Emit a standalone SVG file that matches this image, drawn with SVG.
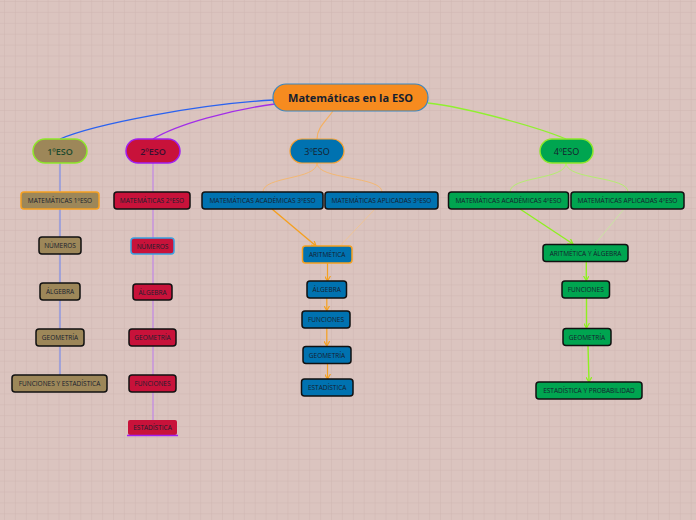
<svg xmlns="http://www.w3.org/2000/svg" width="696" height="520" viewBox="0 0 696 520">
<defs>
<pattern id="grid" x="4" y="1" width="10.9" height="10.9" patternUnits="userSpaceOnUse">
<path d="M0,0 V10.9 M0,0 H10.9" stroke="#cfb6b1" stroke-width="1" fill="none"/>
</pattern>
<marker id="ao" markerWidth="6" markerHeight="6" refX="5" refY="3" orient="auto" markerUnits="userSpaceOnUse">
<path d="M0,0 L5,3 L0,6" fill="none" stroke="#f5a020" stroke-width="1.2"/>
</marker>
<marker id="al" markerWidth="6" markerHeight="6" refX="5" refY="3" orient="auto" markerUnits="userSpaceOnUse">
<path d="M0,0 L5,3 L0,6" fill="none" stroke="#8ef020" stroke-width="1.2"/>
</marker>
</defs>
<style>
text{font-family:"Open Sans","Noto Sans","DejaVu Sans",sans-serif;fill:#16202e;text-anchor:middle;dominant-baseline:central}
.s{font-size:6.5px}
.m{font-size:9px;font-weight:600}
.k{fill:#9d8759}
.r{fill:#c8123a}
.b{fill:#0072b0}
.g{fill:#00a550}
.bk{stroke:#111;stroke-width:1.5}
.c{fill:none}
</style>
<rect width="696" height="520" fill="#dbc4bf"/>
<rect width="696" height="520" fill="url(#grid)"/>
<g id="connectors" class="c">
<path d="M60,139 C95,124 200,104 274,100" stroke="#2a62f0" stroke-width="1.3"/>
<path d="M153,139 C178,124 230,110 275,104" stroke="#a22ee8" stroke-width="1.3"/>
<path d="M333,111 C325,122 317,128 317,139" stroke="#f5b060" stroke-width="1.2"/>
<path d="M428,103 C470,108 540,128 566,139" stroke="#90f030" stroke-width="1.3"/>
<path d="M60,163 V375" stroke="#6a82f0" stroke-width="1"/>
<path d="M153,163 V420" stroke="#c286e6" stroke-width="1.2"/>
<path d="M317,163 C317,180 263,176 263,192" stroke="#f3b874" stroke-width="1"/>
<path d="M317,163 C317,180 382,176 382,192" stroke="#f3b874" stroke-width="1"/>
<path d="M566,163 C566,180 510,176 510,192" stroke="#b4ee70" stroke-width="1"/>
<path d="M566,163 C566,180 628,176 628,192" stroke="#b4ee70" stroke-width="1"/>
<path d="M272,209 L316,246" stroke="#f5a020" stroke-width="1.4" marker-end="url(#ao)"/>
<path d="M375,209 L340,246" stroke="#f3c38a" stroke-width="0.8"/>
<path d="M327.5,263 V281" stroke="#f5a020" stroke-width="1.2" marker-end="url(#ao)"/>
<path d="M326.8,298 V310.5" stroke="#f5a020" stroke-width="1.2" marker-end="url(#ao)"/>
<path d="M326.8,328 V346" stroke="#f5a020" stroke-width="1.2" marker-end="url(#ao)"/>
<path d="M327.5,363 V379" stroke="#f5a020" stroke-width="1.2" marker-end="url(#ao)"/>
<path d="M520,209 L573,244" stroke="#8ef020" stroke-width="1.4" marker-end="url(#al)"/>
<path d="M624,209 L595,244" stroke="#c4ec9a" stroke-width="0.8"/>
<path d="M586.3,262 V280.5" stroke="#8ef020" stroke-width="1.4" marker-end="url(#al)"/>
<path d="M586.5,298 V328" stroke="#8ef020" stroke-width="1.4" marker-end="url(#al)"/>
<path d="M588,345.5 L589,382" stroke="#8ef020" stroke-width="1.4" marker-end="url(#al)"/>
</g>
<g id="root">
<rect x="273" y="84" width="155" height="27" rx="13" fill="#f68b1f" stroke="#3b86c0" stroke-width="1.2"/>
<text x="350.5" y="97.5" style="font-size:11px;font-weight:700">Matemáticas en la ESO</text>
</g>
<g id="eso1">
<rect x="33" y="139" width="54" height="24" rx="12" class="k" stroke="#8ee82a" stroke-width="1.5"/>
<text x="60" y="151" class="m" style="fill:#1d4a2e">1ºESO</text>
</g>
<g id="eso2">
<rect x="126" y="139" width="54" height="24" rx="12" class="r" stroke="#a020f0" stroke-width="1.5"/>
<text x="153" y="151" class="m" style="fill:#3a1030">2ºESO</text>
</g>
<g id="eso3">
<rect x="290" y="139" width="54" height="24" rx="12" class="b" stroke="#f6a030" stroke-width="1.2"/>
<text x="317" y="151" class="m" style="font-weight:500">3ºESO</text>
</g>
<g id="eso4">
<rect x="540" y="139" width="53" height="24" rx="12" class="g" stroke="#8ee82a" stroke-width="1.5"/>
<text x="566.5" y="151" class="m" style="font-weight:500">4ºESO</text>
</g>
<g id="mat1">
<rect x="21" y="192" width="78" height="17" rx="3" class="k" stroke="#f5a020" stroke-width="1.5"/>
<text x="60" y="200.5" class="s">MATEMÁTICAS 1ºESO</text>
</g>
<g id="num1">
<rect x="39" y="237" width="42" height="17" rx="3" class="k bk"/>
<text x="60" y="245.5" class="s">NÚMEROS</text>
</g>
<g id="alg1">
<rect x="40" y="283" width="40" height="17" rx="3" class="k bk"/>
<text x="60" y="291.5" class="s">ÁLGEBRA</text>
</g>
<g id="geo1">
<rect x="36" y="329" width="48" height="17" rx="3" class="k bk"/>
<text x="60" y="337.5" class="s">GEOMETRÍA</text>
</g>
<g id="fun1">
<rect x="12" y="375" width="95" height="17" rx="3" class="k bk"/>
<text x="59.5" y="383.5" class="s">FUNCIONES Y ESTADÍSTICA</text>
</g>
<g id="mat2">
<rect x="114" y="192" width="76" height="17" rx="3" class="r bk"/>
<text x="152" y="200.5" class="s">MATEMÁTICAS 2ºESO</text>
</g>
<g id="num2">
<rect x="131" y="238" width="43" height="16" rx="3" class="r" stroke="#3aa0e0" stroke-width="1.5"/>
<text x="152.5" y="246" class="s">NÚMEROS</text>
</g>
<g id="alg2">
<rect x="133" y="284" width="39" height="16" rx="3" class="r bk"/>
<text x="152.5" y="292" class="s">ÁLGEBRA</text>
</g>
<g id="geo2">
<rect x="129" y="329" width="47" height="17" rx="3" class="r bk"/>
<text x="152.5" y="337.5" class="s">GEOMETRÍA</text>
</g>
<g id="fun2">
<rect x="129" y="375" width="47" height="17" rx="3" class="r bk"/>
<text x="152.5" y="383.5" class="s">FUNCIONES</text>
</g>
<g id="est2">
<rect x="128" y="420" width="49" height="15" rx="2" class="r"/>
<path d="M127,435.5 H178" stroke="#a020f0" stroke-width="1.5"/>
<text x="152.5" y="427.5" class="s">ESTADÍSTICA</text>
</g>
<g id="acad3">
<rect x="202" y="192" width="121" height="17" rx="3" class="b bk"/>
<text x="262.5" y="200.5" class="s">MATEMÁTICAS ACADÉMICAS 3ºESO</text>
</g>
<g id="apl3">
<rect x="325" y="192" width="113" height="17" rx="3" class="b bk"/>
<text x="381.5" y="200.5" class="s">MATEMÁTICAS APLICADAS 3ºESO</text>
</g>
<g id="ari3">
<rect x="302.5" y="246" width="49.5" height="17" rx="3" class="b" stroke="#f5a020" stroke-width="1.5"/>
<text x="327.2" y="254.5" class="s">ARITMÉTICA</text>
</g>
<g id="alg3">
<rect x="307" y="281" width="39.5" height="17" rx="3" class="b bk"/>
<text x="326.7" y="289.5" class="s">ÁLGEBRA</text>
</g>
<g id="fun3">
<rect x="302" y="311" width="48" height="17" rx="3" class="b bk"/>
<text x="326" y="319.5" class="s">FUNCIONES</text>
</g>
<g id="geo3">
<rect x="303" y="346.5" width="48" height="17" rx="3" class="b bk"/>
<text x="327" y="355" class="s">GEOMETRÍA</text>
</g>
<g id="est3">
<rect x="301.5" y="379" width="51.5" height="17" rx="3" class="b bk"/>
<text x="327.2" y="387.5" class="s">ESTADÍSTICA</text>
</g>
<g id="acad4">
<rect x="448.5" y="192" width="120" height="17" rx="3" class="g bk"/>
<text x="508.5" y="200.5" class="s">MATEMÁTICAS ACADÉMICAS 4ºESO</text>
</g>
<g id="apl4">
<rect x="571" y="192" width="113" height="17" rx="3" class="g bk"/>
<text x="627.5" y="200.5" class="s">MATEMÁTICAS APLICADAS 4ºESO</text>
</g>
<g id="ari4">
<rect x="543" y="244.5" width="85" height="17" rx="3" class="g bk"/>
<text x="585.5" y="253" class="s">ARITMÉTICA Y ÁLGEBRA</text>
</g>
<g id="fun4">
<rect x="562" y="281" width="47.5" height="17" rx="3" class="g bk"/>
<text x="585.7" y="289.5" class="s">FUNCIONES</text>
</g>
<g id="geo4">
<rect x="563" y="328.5" width="48" height="17" rx="3" class="g bk"/>
<text x="587" y="337" class="s">GEOMETRÍA</text>
</g>
<g id="est4">
<rect x="536" y="382" width="106" height="17" rx="3" class="g bk"/>
<text x="589" y="390.5" class="s">ESTADÍSTICA Y PROBABILIDAD</text>
</g>
</svg>
